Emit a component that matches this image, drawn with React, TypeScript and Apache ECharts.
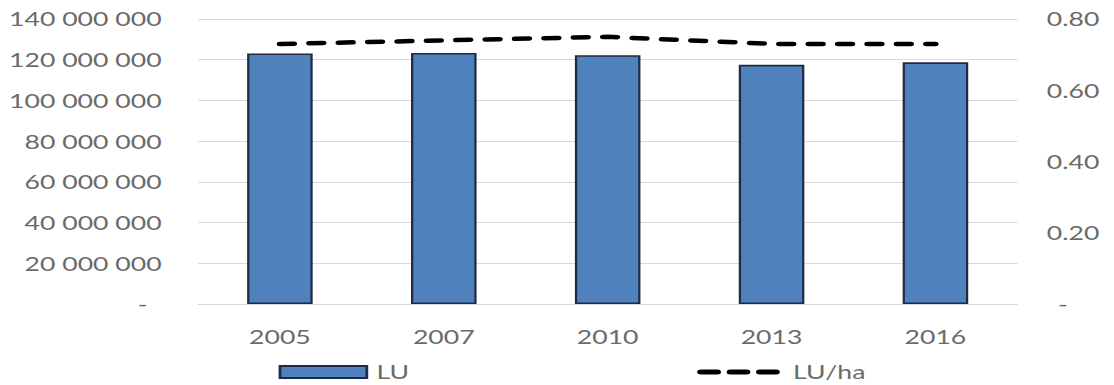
import React, { useEffect, useRef } from "react";
import * as echarts from "echarts";

const years = ["2005", "2007", "2010", "2013", "2016"];
const luValues = [123100000, 123300000, 122200000, 117500000, 118700000];
const luPerHa = [0.73, 0.74, 0.75, 0.73, 0.73];

const STRETCH = 1.4;
const WIDTH = 796;
const HEIGHT = 385;

const FONT = "Lato";
const LABEL_COLOR = "#6a6a6a";
const BAR_COLOR = "#4f81bd";
const BAR_BORDER = "#1d2b45";

const formatSpaced = (v: number) =>
  Math.round(v)
    .toString()
    .replace(/\B(?=(\d{3})+(?!\d))/g, " ");

export default function App() {
  const ref = useRef<HTMLDivElement>(null);

  useEffect(() => {
    if (!ref.current) return;
    const chart = echarts.init(ref.current, undefined, { renderer: "svg" });
    const labelStyle = { fontFamily: FONT, fontSize: 19, color: LABEL_COLOR };
    chart.setOption({
      animation: false,
      textStyle: { fontFamily: FONT },
      grid: { left: 141.4, right: 69.3, top: 19, bottom: 81 },
      legend: [
        {
          data: [{ name: "LU", icon: "rect" }],
          left: 194,
          top: 357,
          itemWidth: 62,
          itemHeight: 12,
          itemStyle: { borderWidth: 2 },
          textStyle: { ...labelStyle, lineHeight: 20, padding: [0, 0, 0, 2] },
        },
        {
          data: ["LU/ha"],
          left: 493,
          top: 357,
          itemWidth: 61,
          itemHeight: 13,
          itemStyle: { opacity: 0 },
          lineStyle: { type: [12, 9], cap: "round", width: 5 },
          textStyle: { ...labelStyle, lineHeight: 20 },
        },
      ],
      xAxis: {
        type: "category",
        data: years,
        axisLine: { lineStyle: { color: "#d9d9d9", width: 1 } },
        axisTick: { show: false },
        axisLabel: { ...labelStyle, margin: 23 },
      },
      yAxis: [
        {
          type: "value",
          min: 0,
          max: 140000000,
          interval: 20000000,
          axisLine: { show: false },
          axisTick: { show: false },
          splitLine: { lineStyle: { color: "#d9d9d9", width: 1 } },
          axisLabel: {
            ...labelStyle,
            margin: 26,
            formatter: (v: number) => (v === 0 ? "{z|-}" : formatSpaced(v)),
            rich: { z: { ...labelStyle, padding: [0, 10, 0, 0] } },
          },
        },
        {
          type: "value",
          min: 0,
          max: 0.8,
          interval: 0.2,
          position: "right",
          axisLine: { show: false },
          axisTick: { show: false },
          splitLine: { show: false },
          axisLabel: {
            ...labelStyle,
            margin: 21,
            formatter: (v: number) => (v === 0 ? "{z|-}" : v.toFixed(2)),
            rich: { z: { ...labelStyle, padding: [0, 0, 0, 8] } },
          },
        },
      ],
      series: [
        {
          name: "LU",
          type: "bar",
          data: luValues,
          barWidth: "40%",
          itemStyle: {
            color: BAR_COLOR,
            borderColor: BAR_BORDER,
            borderWidth: 1.6,
          },
        },
        {
          name: "LU/ha",
          type: "line",
          yAxisIndex: 1,
          data: luPerHa,
          symbol: "none",
          lineStyle: {
            color: "#000000",
            width: 4.5,
            type: [10, 11],
            cap: "round",
          },
          itemStyle: { color: "#000000" },
        },
      ],
    });
    return () => chart.dispose();
  }, []);

  return (
    <div
      ref={ref}
      style={{
        position: "absolute",
        left: 0,
        top: 0,
        width: WIDTH,
        height: HEIGHT,
        transform: `scaleX(${STRETCH})`,
        transformOrigin: "left top",
        background: "#ffffff",
      }}
    />
  );
}
